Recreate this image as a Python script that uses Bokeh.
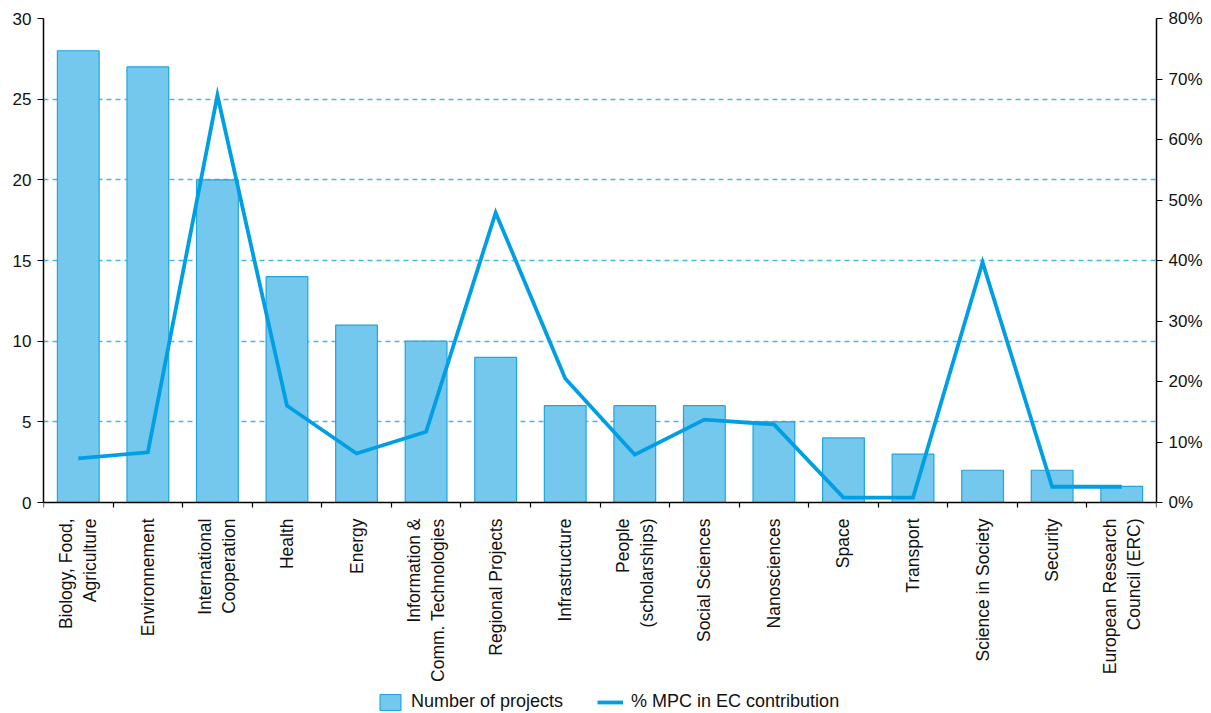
import math
from bokeh.plotting import figure
from bokeh.models import (Range1d, LinearAxis, FixedTicker, PrintfTickFormatter,
                          Legend, LegendItem, ColumnDataSource)
from bokeh.embed import file_html
from bokeh.resources import INLINE

categories = ["Biology, Food,\nAgriculture", "Environnement", "International\nCooperation",
              "Health", "Energy", "Information &\nComm. Technologies", "Regional Projects",
              "Infrastructure", "People\n(scholarships)", "Social Sciences", "Nanosciences",
              "Space", "Transport", "Science in Society", "Security",
              "European Research\nCouncil (ERC)"]
projects = [28, 27, 20, 14, 11, 10, 9, 6, 6, 6, 5, 4, 3, 2, 2, 1]
mpc_pct = [7.3, 8.3, 67.3, 16.0, 8.1, 11.7, 47.9, 20.5, 7.9, 13.7, 12.9, 0.8, 0.8, 39.7, 2.6, 2.6]
left_ticks = [0, 5, 10, 15, 20, 25, 30]
right_ticks = [0, 10, 20, 30, 40, 50, 60, 70, 80]

FONT = "Liberation Sans"
BAR_FILL = "#74c8ee"
BAR_LINE = "#1ea6de"
LINE_COL = "#009fe3"
GRID_COL = "#2aaae4"

# layout (pixels): plot area top 18, zero line at 502, canvas bottom 713
TOP, ZERO, BOTTOM = 18, 502, 713
span_px = ZERO - TOP
below_px = BOTTOM - ZERO
y_max, pct_max = 30, 80

n = len(categories)
xs = [i + 0.5 for i in range(n)]
src = ColumnDataSource(dict(x=xs, projects=projects, pct=mpc_pct))

p = figure(width=1211, frame_width=1113, frame_height=BOTTOM - TOP,
           output_backend="svg", toolbar_location=None,
           x_range=Range1d(0, n),
           y_range=Range1d(-below_px * y_max / span_px, y_max),
           min_border_left=43, min_border_right=55, min_border_top=TOP, min_border_bottom=0)
p.outline_line_color = None
p.background_fill_color = "white"
p.border_fill_color = "white"

p.extra_y_ranges = {"pct": Range1d(-below_px * pct_max / span_px, pct_max)}

bars = p.vbar(x="x", top="projects", bottom=0, width=0.6, source=src, fill_color=BAR_FILL,
              line_color=BAR_LINE, line_width=1.2)
ln = p.line(x="x", y="pct", source=src, y_range_name="pct", line_color=LINE_COL,
            line_width=3.8, line_join="miter")

# x axis: labels at centers, ticks at boundaries (minor ticks)
xax = p.xaxis[0]
xax.fixed_location = 0
xax.ticker = FixedTicker(ticks=xs, minor_ticks=list(range(n + 1)))
xax.major_label_overrides = {x: c for x, c in zip(xs, categories)}
xax.major_label_orientation = math.pi / 2
xax.major_tick_out = 0
xax.major_tick_in = 0
xax.minor_tick_out = 5
xax.minor_tick_in = 0
xax.axis_line_color = "black"
xax.axis_line_width = 1.5
xax.minor_tick_line_color = "black"
xax.minor_tick_line_width = 1.2
xax.major_label_text_font = FONT
xax.major_label_text_font_size = "17.5px"
xax.major_label_text_color = "#111111"
xax.major_label_standoff = 11

yax = p.yaxis[0]
yax.ticker = FixedTicker(ticks=left_ticks)
yax.bounds = (0, y_max)
yax.major_tick_out = 6
yax.major_tick_in = 0
yax.minor_tick_line_color = None
yax.axis_line_color = "black"
yax.axis_line_width = 1.5
yax.major_tick_line_color = "black"
yax.major_label_text_font = FONT
yax.major_label_text_font_size = "17px"
yax.major_label_text_color = "#111111"
yax.major_label_standoff = 6

rax = LinearAxis(y_range_name="pct", ticker=FixedTicker(ticks=right_ticks),
                 formatter=PrintfTickFormatter(format="%d%%"), bounds=(0, pct_max))
rax.major_tick_out = 6
rax.major_tick_in = 0
rax.minor_tick_line_color = None
rax.axis_line_color = "black"
rax.axis_line_width = 1.5
rax.major_tick_line_color = "black"
rax.major_label_text_font = FONT
rax.major_label_text_font_size = "17px"
rax.major_label_text_color = "#111111"
rax.major_label_standoff = 6
p.add_layout(rax, "right")

p.xgrid.grid_line_color = None
p.ygrid.ticker = FixedTicker(ticks=left_ticks[1:])
p.ygrid.grid_line_color = GRID_COL
p.ygrid.grid_line_alpha = 0.85
p.ygrid.grid_line_dash = "5 4"
p.ygrid.grid_line_width = 1.3

legend = Legend(items=[LegendItem(label="Number of projects", renderers=[bars]),
                       LegendItem(label="% MPC in EC contribution", renderers=[ln])],
                orientation="horizontal", location=(334, 1),
                label_text_font=FONT, label_text_font_size="18px",
                label_text_color="#111111", glyph_width=26, glyph_height=20,
                spacing=34, border_line_color=None, background_fill_alpha=0,
                padding=1, margin=0, label_standoff=8)
p.add_layout(legend, "center")

open("out.html", "w").write(file_html(p, INLINE))
